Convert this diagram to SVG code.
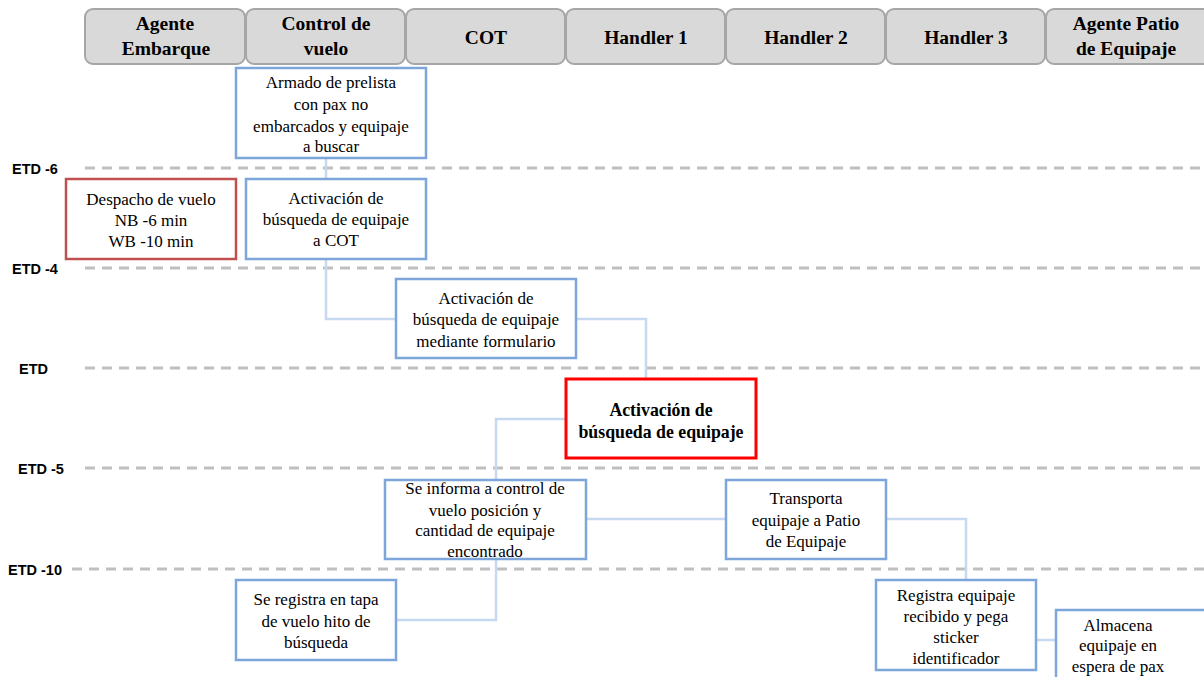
<svg xmlns="http://www.w3.org/2000/svg" width="1204" height="677" viewBox="0 0 1204 677">
  <style>
    .lane { fill: #d9d9d9; stroke: #a6a6a6; stroke-width: 2; }
    .lane-t { font-family: 'Liberation Serif', 'DejaVu Serif', serif; font-weight: bold; font-size: 19.5px; fill: #000; text-anchor: middle; }
    .grid { stroke: #bfbfbf; stroke-width: 3; stroke-dasharray: 10 7; fill: none; }
    .etd { font-family: 'Liberation Sans', 'DejaVu Sans', sans-serif; font-weight: bold; font-size: 14.5px; fill: #000; }
    .box { fill: #fff; stroke: #7ea6da; stroke-width: 2.5; }
    .box-red { fill: #fff; stroke: #c0504d; stroke-width: 2.5; }
    .box-key { fill: #fff; stroke: #ff0000; stroke-width: 3; }
    .t { font-family: 'Liberation Serif', 'DejaVu Serif', serif; font-size: 17px; fill: #000; text-anchor: middle; }
    .tb { font-family: 'Liberation Serif', 'DejaVu Serif', serif; font-size: 17.8px; font-weight: bold; fill: #000; text-anchor: middle; }
    .link { fill: none; stroke: #c6d9f1; stroke-width: 2.5; }
  </style>

  <rect width="1204" height="677" fill="#fff"/>

  <!-- swimlane headers -->
  <g id="lanes">
    <rect class="lane" x="85" y="9" width="160" height="55" rx="8"/>
    <rect class="lane" x="246" y="9" width="159" height="55" rx="8"/>
    <rect class="lane" x="406" y="9" width="159" height="55" rx="8"/>
    <rect class="lane" x="566" y="9" width="159" height="55" rx="8"/>
    <rect class="lane" x="726" y="9" width="159" height="55" rx="8"/>
    <rect class="lane" x="886" y="9" width="159" height="55" rx="8"/>
    <rect class="lane" x="1046" y="9" width="170" height="55" rx="8"/>
    <text class="lane-t" x="165" y="30">Agente</text>
    <text class="lane-t" x="166" y="55">Embarque</text>
    <text class="lane-t" x="326" y="30">Control de</text>
    <text class="lane-t" x="326" y="55">vuelo</text>
    <text class="lane-t" x="486" y="44">COT</text>
    <text class="lane-t" x="646" y="44">Handler 1</text>
    <text class="lane-t" x="806" y="44">Handler 2</text>
    <text class="lane-t" x="966" y="44">Handler 3</text>
    <text class="lane-t" x="1126" y="30">Agente Patio</text>
    <text class="lane-t" x="1126" y="55">de Equipaje</text>
  </g>

  <!-- time marks -->
  <g id="timeline">
    <line class="grid" x1="85" y1="168" x2="1204" y2="168"/>
    <line class="grid" x1="85" y1="268" x2="1204" y2="268"/>
    <line class="grid" x1="85" y1="368" x2="1204" y2="368"/>
    <line class="grid" x1="85" y1="468" x2="1204" y2="468"/>
    <line class="grid" x1="72" y1="569" x2="1204" y2="569"/>
    <text class="etd" x="12" y="174">ETD -6</text>
    <text class="etd" x="12" y="274">ETD -4</text>
    <text class="etd" x="19" y="374">ETD</text>
    <text class="etd" x="18" y="474">ETD -5</text>
    <text class="etd" x="8" y="575">ETD -10</text>
  </g>

  <!-- connectors -->
  <g id="connectors">
    <path class="link" d="M326 158 V179"/>
    <path class="link" d="M326 259 V319 H396"/>
    <path class="link" d="M576 319 H646 V379"/>
    <path class="link" d="M566 419 H496 V480"/>
    <path class="link" d="M496 559 V620 H396"/>
    <path class="link" d="M586 519 H726"/>
    <path class="link" d="M886 519 H966 V580"/>
    <path class="link" d="M1036 640 H1056"/>
  </g>

  <g id="n-prelista">
    <rect class="box" x="236" y="68" width="190" height="90"/>
    <text class="t" x="331" y="88">Armado de prelista</text>
    <text class="t" x="331" y="110">con pax no</text>
    <text class="t" x="331" y="132">embarcados y equipaje</text>
    <text class="t" x="331" y="152">a buscar</text>
  </g>

  <g id="n-despacho">
    <rect class="box-red" x="66" y="179" width="170" height="80"/>
    <text class="t" x="151" y="205">Despacho de vuelo</text>
    <text class="t" x="151" y="226">NB -6 min</text>
    <text class="t" x="151" y="247">WB -10 min</text>
  </g>

  <g id="n-activacion-cot">
    <rect class="box" x="246" y="179" width="180" height="80"/>
    <text class="t" x="336" y="204">Activación de</text>
    <text class="t" x="336" y="225">búsqueda de equipaje</text>
    <text class="t" x="336" y="246">a COT</text>
  </g>

  <g id="n-formulario">
    <rect class="box" x="396" y="279" width="180" height="79"/>
    <text class="t" x="486" y="304">Activación de</text>
    <text class="t" x="486" y="325">búsqueda de equipaje</text>
    <text class="t" x="486" y="347">mediante formulario</text>
  </g>

  <g id="n-busqueda">
    <rect class="box-key" x="566" y="379" width="190" height="79"/>
    <text class="tb" x="661" y="416">Activación de</text>
    <text class="tb" x="661" y="438">búsqueda de equipaje</text>
  </g>

  <g id="n-informa">
    <rect class="box" x="385" y="480" width="201" height="79"/>
    <text class="t" x="485" y="494">Se informa a control de</text>
    <text class="t" x="485" y="516">vuelo posición y</text>
    <text class="t" x="485" y="536">cantidad de equipaje</text>
    <text class="t" x="485" y="557">encontrado</text>
  </g>

  <g id="n-registra-tapa">
    <rect class="box" x="236" y="580" width="160" height="80"/>
    <text class="t" x="316" y="605">Se registra en tapa</text>
    <text class="t" x="316" y="627">de vuelo hito de</text>
    <text class="t" x="316" y="648">búsqueda</text>
  </g>

  <g id="n-transporta">
    <rect class="box" x="726" y="480" width="160" height="79"/>
    <text class="t" x="806" y="504">Transporta</text>
    <text class="t" x="806" y="526">equipaje a  Patio</text>
    <text class="t" x="806" y="547">de Equipaje</text>
  </g>

  <g id="n-sticker">
    <rect class="box" x="876" y="580" width="160" height="90"/>
    <text class="t" x="956" y="601">Registra equipaje</text>
    <text class="t" x="956" y="622">recibido y pega</text>
    <text class="t" x="956" y="643">sticker</text>
    <text class="t" x="956" y="664">identificador</text>
  </g>

  <g id="n-almacena">
    <rect class="box" x="1056" y="610" width="160" height="80"/>
    <text class="t" x="1118" y="631">Almacena</text>
    <text class="t" x="1118" y="651">equipaje en</text>
    <text class="t" x="1118" y="672">espera de pax</text>
  </g>
</svg>
